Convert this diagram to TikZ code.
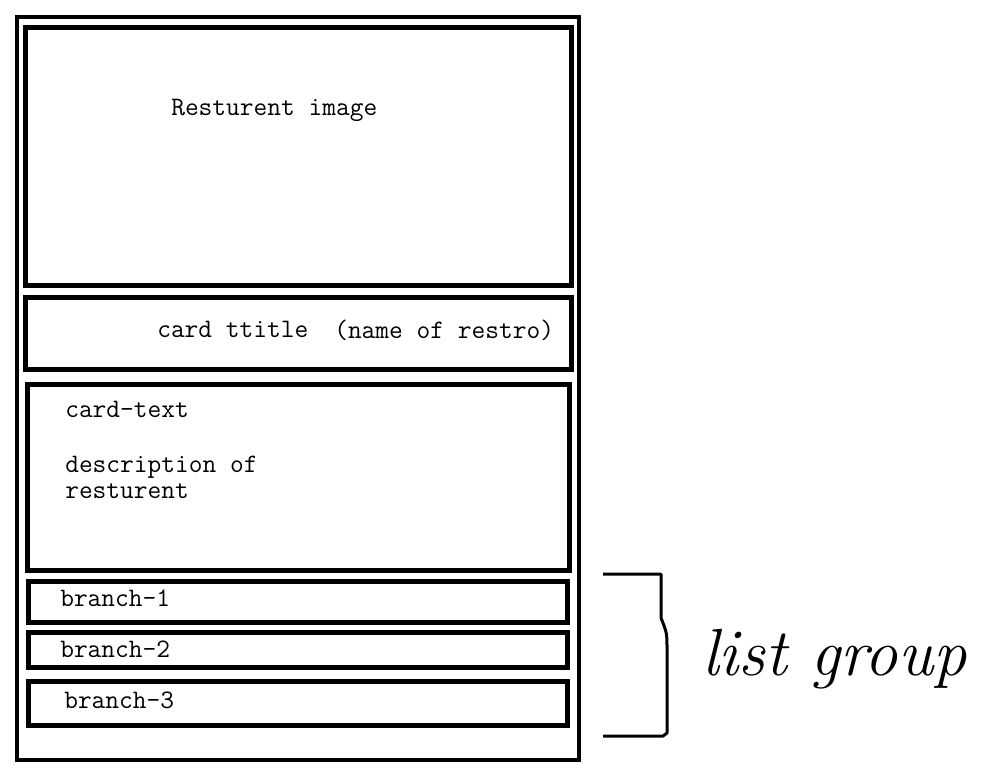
\documentclass[tikz,border=0pt]{standalone}
\usepackage{fontspec}
\usetikzlibrary{positioning,fit}

\tikzset{
  cardframe/.style={draw, line width=3pt, inner sep=0pt, outer sep=0pt},
  panel/.style={draw, line width=3.75pt, inner sep=0pt, outer sep=0pt},
  wiretext/.style={anchor=base west, inner sep=0pt, font=\ttfamily\fontsize{20}{22}\selectfont},
  bracket/.style={line width=2.25pt, line join=round},
}

\begin{document}
\begin{tikzpicture}[x=0.75pt,y=-0.75pt]
  \useasboundingbox (0,0) rectangle (1006,779);
  % card and its panels
  \node[cardframe, fit={(17,17) (579,760)}] (card) {};
  \node[panel, fit={(25.5,27.5) (571,285.5)}] (image) {};
  \node[panel, fit={(25.5,297) (571,369.5)}] (title) {};
  \node[panel, fit={(27,384.5) (569,570)}] (body) {};
  \node[panel, fit={(28,581) (567.5,622)}] (branchA) {};
  \node[panel, fit={(28,632) (567.5,667)}] (branchB) {};
  \node[panel, fit={(28,681) (567.5,725.5)}] (branchC) {};
  % texts
  \node[wiretext] (imagetxt) at (171,115) {Resturent image};
  \node[wiretext] (titletxt) at (157,337) {card ttitle};
  \node[wiretext] (nametxt) at (334,338.5) {(name of restro)};
  \node[wiretext] (bodytxt) at (65,417) {card-text};
  \node[wiretext] (desctxt) at (65,472) {description of};
  \node[wiretext] (desctxtb) at (65,498) {resturent};
  \node[wiretext] (branchAtxt) at (60,606) {branch-1};
  \node[wiretext] (branchBtxt) at (60,657) {branch-2};
  \node[wiretext] (branchCtxt) at (64,708) {branch-3};
  % list group bracket
  \draw[bracket] (603,574) -- (661,574) -- (661,618)
    .. controls (667,633) .. (667,650) -- (667,733) -- (663,736) -- (603,736);
  \node[anchor=base west, inner sep=0pt, font=\fontsize{50}{54}\selectfont\itshape] (listgroup) at (702,675) {list group};
\end{tikzpicture}
\end{document}
